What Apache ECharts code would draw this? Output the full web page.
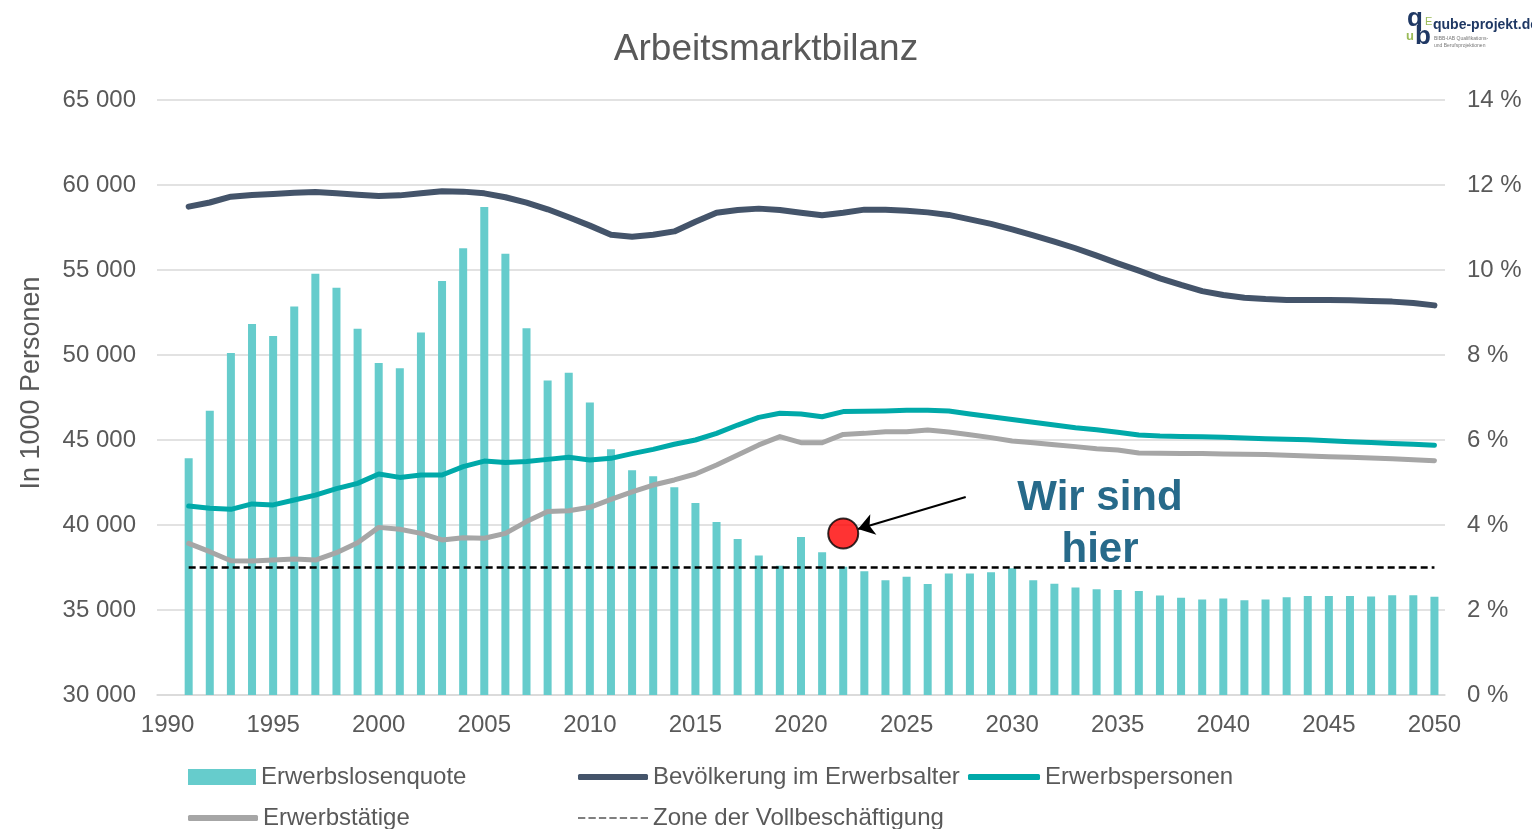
<!DOCTYPE html>
<html>
<head>
<meta charset="utf-8">
<title>Arbeitsmarktbilanz</title>
<script src="https://cdn.jsdelivr.net/npm/echarts@6/dist/echarts.min.js"></script>
<style>
  html, body { margin: 0; padding: 0; background: #fff; }
  #chart { width: 1532px; height: 829px; }
</style>
</head>
<body>
<div id="chart"></div>
<script>
const years = [
  1991, 1992, 1993, 1994, 1995, 1996, 1997, 1998, 1999, 2000,
  2001, 2002, 2003, 2004, 2005, 2006, 2007, 2008, 2009, 2010,
  2011, 2012, 2013, 2014, 2015, 2016, 2017, 2018, 2019, 2020,
  2021, 2022, 2023, 2024, 2025, 2026, 2027, 2028, 2029, 2030,
  2031, 2032, 2033, 2034, 2035, 2036, 2037, 2038, 2039, 2040,
  2041, 2042, 2043, 2044, 2045, 2046, 2047, 2048, 2049, 2050
];
const xTickLabels = [1990, 1995, 2000, 2005, 2010, 2015, 2020, 2025, 2030, 2035, 2040, 2045, 2050];

// Erwerbslosenquote in % (right axis)
const erwerbslosenquote = [
  5.57, 6.69, 8.05, 8.73, 8.45, 9.14, 9.91, 9.58, 8.62, 7.81,
  7.69, 8.53, 9.74, 10.51, 11.48, 10.38, 8.63, 7.40, 7.58, 6.88,
  5.78, 5.29, 5.15, 4.89, 4.52, 4.07, 3.67, 3.28, 3.04, 3.72,
  3.36, 3.02, 2.91, 2.70, 2.78, 2.61, 2.86, 2.86, 2.89, 2.98,
  2.70, 2.62, 2.53, 2.49, 2.47, 2.45, 2.34, 2.29, 2.25, 2.27,
  2.23, 2.25, 2.30, 2.33, 2.33, 2.33, 2.32, 2.35, 2.35, 2.31
];

// in 1000 Personen (left axis)
const bevoelkerung = [
  58730, 58970, 59310, 59410, 59470, 59550, 59590, 59510, 59430, 59350,
  59390, 59510, 59630, 59610, 59510, 59280, 58960, 58570, 58100, 57610,
  57080, 56960, 57070, 57270, 57840, 58370, 58530, 58610, 58530, 58370,
  58220, 58370, 58550, 58550, 58490, 58390, 58240, 57980, 57710, 57390,
  57040, 56670, 56280, 55850, 55390, 54960, 54510, 54120, 53760, 53530,
  53370, 53290, 53240, 53240, 53240, 53220, 53180, 53140, 53060, 52920
];
const erwerbspersonen = [
  41120, 40980, 40920, 41240, 41180, 41470, 41760, 42140, 42450, 43000,
  42800, 42940, 42940, 43430, 43760, 43670, 43730, 43860, 43980, 43820,
  43920, 44200, 44450, 44750, 45000, 45390, 45880, 46330, 46570, 46530,
  46370, 46670, 46690, 46710, 46750, 46750, 46710, 46530, 46370, 46210,
  46040, 45880, 45720, 45600, 45450, 45290, 45230, 45210, 45190, 45160,
  45120, 45080, 45050, 45020, 44960, 44900, 44850, 44800, 44750, 44690
];
const erwerbstaetige = [
  38920, 38430, 37900, 37880, 37940, 38000, 37940, 38370, 38960, 39860,
  39750, 39510, 39120, 39250, 39220, 39510, 40200, 40790, 40840, 41040,
  41510, 41950, 42350, 42650, 43000, 43530, 44120, 44710, 45200, 44840,
  44840, 45330, 45390, 45490, 45490, 45590, 45470, 45310, 45140, 44940,
  44840, 44720, 44610, 44490, 44410, 44240, 44220, 44210, 44200, 44180,
  44160, 44140, 44100, 44060, 44020, 43980, 43940, 43900, 43840, 43780
];
const vollbeschaeftigung = 37500;

// "Wir sind hier" marker and arrow, in data units
const heute = [2022, 39500];
const pfeilVon = [2027.8, 41650];
const pfeilBis = [2022.7, 39760];

const chart = echarts.init(document.getElementById('chart'));
window.onresize = () => chart.resize();

const font = '"Liberation Sans", Arial, sans-serif';
const grey = '#595959';
const pairs = values => years.map((y, i) => [y, values[i]]);
const thousands = v => String(v).replace(/\B(?=(\d{3})+(?!\d))/g, ' ');

const legendText = { fontFamily: font, fontSize: 24, lineHeight: 24, color: grey };
const dashIcon = 'path://M0,0h7v1h-7z M10,0h7v1h-7z M20,0h7v1h-7z M30,0h7v1h-7z M40,0h7v1h-7z M50,0h7v1h-7z M60,0h7v1h-7z';
const legend = (name, left, top, icon, w, h) => ({
  data: [name], left, top, icon, itemWidth: w, itemHeight: h,
  padding: 0, selectedMode: false, textStyle: legendText
});

chart.setOption({
  animation: false,
  backgroundColor: '#fff',
  textStyle: { fontFamily: font },
  title: {
    text: 'Arbeitsmarktbilanz',
    left: 'center',
    top: 31,
    padding: 0,
    textStyle: { fontFamily: font, fontSize: 37, fontWeight: 'normal', color: grey }
  },
  grid: { left: 157, right: 87, top: 100, bottom: 134 },
  legend: [
    legend('Erwerbslosenquote', 188, 765, 'rect', 68, 16),
    legend('Bevölkerung im Erwerbsalter', 578, 765, 'roundRect', 70, 6),
    legend('Erwerbspersonen', 968, 765, 'roundRect', 72, 6),
    legend('Erwerbstätige', 188, 806, 'roundRect', 70, 6),
    legend('Zone der Vollbeschäftigung', 578, 806, dashIcon, 70, 3)
  ],
  xAxis: {
    type: 'value',
    min: 1989.5,
    max: 2050.5,
    axisLine: { show: true, lineStyle: { color: '#d9d9d9', width: 1.5 } },
    axisTick: { show: false },
    splitLine: { show: false },
    axisLabel: {
      customValues: xTickLabels,
      formatter: v => String(v),
      margin: 18,
      fontSize: 24,
      color: grey
    }
  },
  yAxis: [
    {
      type: 'value',
      min: 30000,
      max: 65000,
      interval: 5000,
      axisLine: { show: false },
      axisTick: { show: false },
      splitLine: { lineStyle: { color: '#d9d9d9', width: 1.5 } },
      axisLabel: { formatter: thousands, margin: 21, fontSize: 24, color: grey, padding: [4, 0, 0, 0] }
    },
    {
      type: 'value',
      min: 0,
      max: 14,
      interval: 2,
      axisLine: { show: false },
      axisTick: { show: false },
      splitLine: { show: false },
      axisLabel: { formatter: v => v + ' %', margin: 22, fontSize: 24, color: grey, padding: [4, 0, 0, 0] }
    }
  ],
  series: [
    {
      name: 'Erwerbslosenquote',
      type: 'bar',
      yAxisIndex: 1,
      barWidth: 8,
      itemStyle: { color: '#66cccc' },
      data: pairs(erwerbslosenquote)
    },
    {
      name: 'Bevölkerung im Erwerbsalter',
      type: 'line',
      symbol: 'none',
      color: '#44546a',
      lineStyle: { width: 6, cap: 'round', join: 'round' },
      data: pairs(bevoelkerung)
    },
    {
      name: 'Erwerbspersonen',
      type: 'line',
      symbol: 'none',
      color: '#00a9a9',
      lineStyle: { width: 5, cap: 'round', join: 'round' },
      data: pairs(erwerbspersonen)
    },
    {
      name: 'Erwerbstätige',
      type: 'line',
      symbol: 'none',
      color: '#a6a6a6',
      lineStyle: { width: 5, cap: 'round', join: 'round' },
      data: pairs(erwerbstaetige)
    },
    {
      name: 'Zone der Vollbeschäftigung',
      type: 'line',
      symbol: 'none',
      color: '#000',
      lineStyle: { width: 2.5, type: [7, 4] },
      data: years.map(y => [y, vollbeschaeftigung])
    },
    {
      name: 'heute',
      type: 'scatter',
      symbolSize: 30,
      itemStyle: { color: '#ff0000', borderColor: '#000', borderWidth: 2 },
      z: 5,
      silent: true,
      data: [heute],
      markLine: {
        silent: true,
        symbol: ['none', 'arrow'],
        symbolSize: 16,
        label: { show: false },
        lineStyle: { color: '#000', width: 2, type: 'solid' },
        data: [[{ coord: pfeilVon }, { coord: pfeilBis }]]
      }
    }
  ],
  graphic: [
    {
      type: 'text',
      x: 32,
      y: 383,
      rotation: Math.PI / 2,
      style: {
        text: 'In 1000 Personen',
        fontFamily: font, fontSize: 27, fill: grey,
        align: 'center', verticalAlign: 'middle'
      }
    },
    {
      type: 'text',
      x: 1100,
      y: 524,
      style: {
        text: 'Wir sind\nhier',
        fontFamily: font, fontSize: 42, fontWeight: 'bold', lineHeight: 52,
        fill: '#276a8a', align: 'center', verticalAlign: 'middle'
      }
    },
    // logo qube-projekt.de
    {
      type: 'group',
      left: 1406,
      top: 6,
      children: [
        { type: 'text', x: 2, y: -4, style: { text: 'q', fontFamily: font, fontSize: 26, fontWeight: 'bold', fill: '#1f3864' } },
        { type: 'text', x: 1, y: 20, style: { text: 'u', fontFamily: font, fontSize: 13, fontWeight: 'bold', fill: '#9bbb59' } },
        { type: 'text', x: 10, y: 14, style: { text: 'b', fontFamily: font, fontSize: 26, fontWeight: 'bold', fill: '#1f3864' } },
        { type: 'text', x: 20, y: 6, style: { text: 'E', fontFamily: font, fontSize: 11, fill: '#9bbb59' } },
        { type: 'text', x: 28, y: 8, style: { text: 'qube-projekt.de', fontFamily: font, fontSize: 14, fontWeight: 'bold', fill: '#1f3864' } },
        { type: 'text', x: 29, y: 26, style: { text: 'BIBB-IAB Qualifikations-', fontFamily: font, fontSize: 5, fill: '#777' } },
        { type: 'text', x: 29, y: 33, style: { text: 'und Berufsprojektionen', fontFamily: font, fontSize: 5, fill: '#777' } }
      ]
    }
  ]
});
</script>
</body>
</html>
